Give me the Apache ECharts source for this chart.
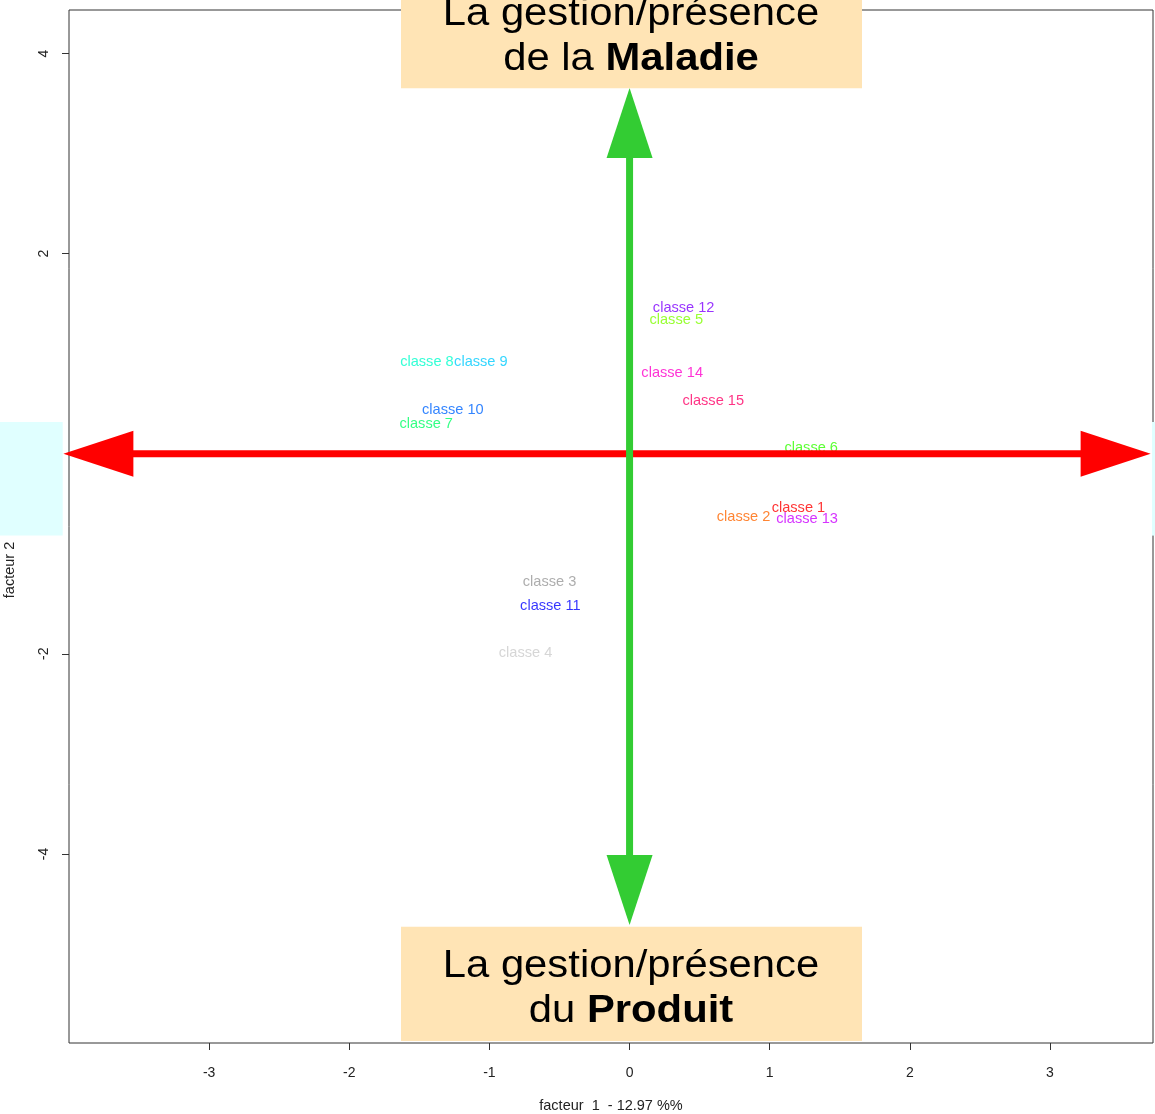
<!DOCTYPE html>
<html>
<head>
<meta charset="utf-8">
<script src="https://cdn.jsdelivr.net/npm/echarts@6/dist/echarts.min.js"></script>
<style>
html,body{margin:0;padding:0;background:#fff;}
#chart{width:1155px;height:1114px;}
</style>
</head>
<body>
<div id="chart"></div>
<script>
// ---- data ----
const categories = ['classe 1','classe 2','classe 3','classe 4','classe 5','classe 6','classe 7','classe 8',
  'classe 9','classe 10','classe 11','classe 12','classe 13','classe 14','classe 15'];
const factor1 = [1.205, 0.813, -0.571, -0.742, 0.333, 1.296, -1.451, -1.446, -1.061, -1.261, -0.565, 0.386, 1.267, 0.304, 0.597];
const factor2 = [-0.53, -0.62, -1.27, -1.98, 1.35, 0.07, 0.31, 0.93, 0.93, 0.45, -1.51, 1.47, -0.64, 0.82, 0.54];
const palette = ['#FF0000','#FF6600','#999999','#CCCCCC','#80FF00','#33FF00','#00FF66','#00FFCC',
  '#00CCFF','#0066FF','#0000FF','#8000FF','#CC00FF','#FF00CC','#FF0066'];
const xTicks = [-3,-2,-1,0,1,2,3];
const yTicks = [-4,-2,2,4];
const xRange = [-4, 3.735];
const yRange = [-5.89, 4.435];
// axis arrows (data space): [x1, y1, x2, y2]
const arrowH = [-4.04, 0, 3.718, 0];
const arrowV = [0, -4.71, 0, 3.655];
const xTitle = 'facteur  1  - 12.97 %%';
const yTitle = 'facteur 2';

const FONT = '"Liberation Sans", Arial, sans-serif';

const chart = echarts.init(document.getElementById('chart'), null, {renderer:'canvas'});

const labelData = categories.map((c, i) => ({
  name: c,
  value: [factor1[i], factor2[i]],
  label: {color: palette[i]}
}));

function renderArrow(params, api) {
  const p1 = api.coord([api.value(0), api.value(1)]);
  const p2 = api.coord([api.value(2), api.value(3)]);
  const color = api.value(4) === 0 ? '#FF0000' : '#33CC33';
  const dx = p2[0] - p1[0], dy = p2[1] - p1[1];
  const len = Math.sqrt(dx*dx + dy*dy);
  const ux = dx/len, uy = dy/len;
  const nx = -uy, ny = ux;
  const headLen = 70, headHalf = 23, shaftW = 7;
  const b1 = [p1[0] + ux*headLen, p1[1] + uy*headLen];
  const b2 = [p2[0] - ux*headLen, p2[1] - uy*headLen];
  return {
    type: 'group',
    children: [
      {type:'line', shape:{x1:b1[0]-ux*2, y1:b1[1]-uy*2, x2:b2[0]+ux*2, y2:b2[1]+uy*2},
        style:{stroke:color, lineWidth:shaftW}},
      {type:'polygon', shape:{points:[p2, [b2[0]+nx*headHalf, b2[1]+ny*headHalf], [b2[0]-nx*headHalf, b2[1]-ny*headHalf]]},
        style:{fill:color}},
      {type:'polygon', shape:{points:[p1, [b1[0]+nx*headHalf, b1[1]+ny*headHalf], [b1[0]-nx*headHalf, b1[1]-ny*headHalf]]},
        style:{fill:color}}
    ]
  };
}

const boxCX = 631;
const option = {
  animation: false,
  backgroundColor: '#fff',
  grid: {left: 69, right: 2, top: 10, bottom: 71, show: true, borderColor: '#333', borderWidth: 1,
    backgroundColor: 'transparent', containLabel: false, outerBoundsMode: 'none'},
  xAxis: {
    type: 'value', min: xRange[0], max: xRange[1],
    axisLine: {show: false, onZero: false},
    splitLine: {show: false},
    axisTick: {show: true, length: 7, lineStyle: {color: '#333'}, customValues: xTicks},
    axisLabel: {show: true, customValues: xTicks, margin: 23, fontSize: 14, color: '#222', fontFamily: FONT},
    name: xTitle, nameLocation: 'middle', nameGap: 55,
    nameTextStyle: {fontSize: 14.5, color: '#222', fontFamily: FONT}
  },
  yAxis: {
    type: 'value', min: yRange[0], max: yRange[1],
    axisLine: {show: false, onZero: false},
    splitLine: {show: false},
    axisTick: {show: true, length: 7, lineStyle: {color: '#333'}, customValues: yTicks},
    axisLabel: {show: true, customValues: yTicks, rotate: 90, margin: 18, fontSize: 14, color: '#222', fontFamily: FONT}
  },
  series: [
    {
      type: 'scatter', silent: true, z: 2,
      symbol: 'circle', symbolSize: 1,
      itemStyle: {color: 'rgba(0,0,0,0)'},
      label: {show: true, position: 'inside', offset: [0, 1], formatter: '{b}', fontSize: 14.6, fontFamily: FONT, align: 'center', verticalAlign: 'middle'},
      data: labelData
    },
    {
      type: 'custom', silent: true, z: 5, clip: false,
      renderItem: renderArrow,
      encode: {x: [0, 2], y: [1, 3]},
      data: [arrowH.concat([0]), arrowV.concat([1])]
    }
  ],
  graphic: [
    {type:'rect', z:100, shape:{x:0, y:422, width:62.7, height:113.6}, style:{fill:'#E0FFFF'}},
    {type:'rect', z:100, shape:{x:1152, y:422, width:3, height:113.6}, style:{fill:'#E0FFFF'}},
    {type:'rect', z:100, shape:{x:401, y:0, width:461, height:88.3}, style:{fill:'#FFE4B5'}},
    {type:'rect', z:100, shape:{x:401, y:926.7, width:461, height:114.3}, style:{fill:'#FFE4B5'}},
    {type:'text', z:101, x:boxCX, y:15, scaleX:1.1,
      style:{text:'La gestion/présence', font:'38px ' + FONT, fill:'#000', align:'center', verticalAlign:'middle'}},
    {type:'text', z:101, x:boxCX, y:60, scaleX:1.1,
      style:{text:'{n|de la }{b|Maladie}', align:'center', verticalAlign:'middle', fill:'#000',
        rich:{n:{fontSize:38, fontFamily:FONT, fill:'#000'}, b:{fontSize:38, fontFamily:FONT, fontWeight:'bold', fill:'#000'}}}},
    {type:'text', z:101, x:boxCX, y:966.3, scaleX:1.1,
      style:{text:'La gestion/présence', font:'38px ' + FONT, fill:'#000', align:'center', verticalAlign:'middle'}},
    {type:'text', z:101, x:boxCX, y:1011.3, scaleX:1.1,
      style:{text:'{n|du }{b|Produit}', align:'center', verticalAlign:'middle', fill:'#000',
        rich:{n:{fontSize:38, fontFamily:FONT, fill:'#000'}, b:{fontSize:38, fontFamily:FONT, fontWeight:'bold', fill:'#000'}}}},
    {type:'text', z:101, x:9.5, y:570, rotation:Math.PI/2,
      style:{text:yTitle, font:'14.5px ' + FONT, fill:'#222', align:'center', verticalAlign:'middle'}}
  ]
};
chart.setOption(option);
</script>
</body>
</html>
